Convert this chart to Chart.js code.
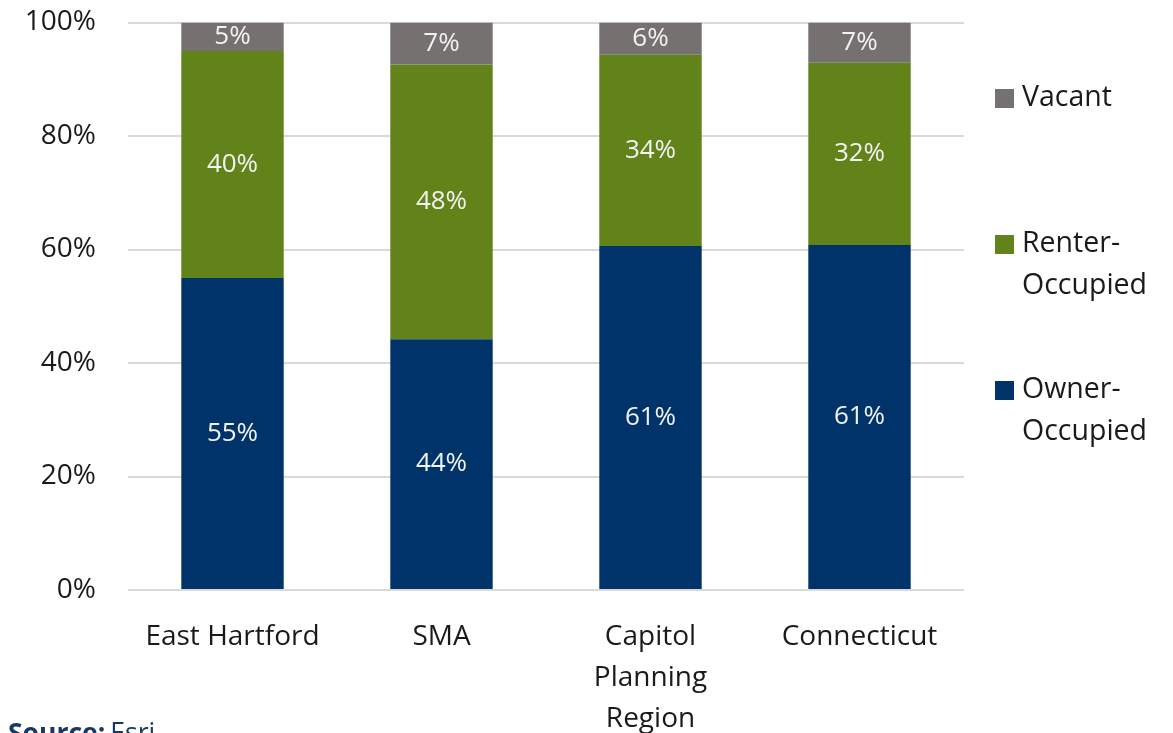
<!DOCTYPE html>
<html>
<head>
<meta charset="utf-8">
<script src="https://cdn.jsdelivr.net/npm/chart.js@4.4.1/dist/chart.umd.min.js"></script>
<style>
  html, body { margin: 0; padding: 0; background: #fff; }
  #wrap { width: 1173px; height: 733px; position: relative; }
</style>
</head>
<body>
<div id="wrap"><canvas id="housingChart"></canvas></div>
<script>
const areas = ['East Hartford', 'SMA', ['Capitol', 'Planning', 'Region'], 'Connecticut'];
const ownerOccupied = [55.0, 44.2, 60.6, 60.8];
const renterOccupied = [40.0, 48.4, 33.7, 32.1];
const vacant = [5.0, 7.4, 5.7, 7.1];
const yTicks = [0, 20, 40, 60, 80, 100];

const FONT = '"Open Sans", "Noto Sans", sans-serif';
const colors = { owner: '#00336a', renter: '#62821a', vacant: '#767171' };

// value labels in the middle of each segment
const segmentLabels = {
    id: 'segmentLabels',
    afterDatasetsDraw(chart) {
        const ctx = chart.ctx;
        ctx.save();
        ctx.fillStyle = '#f2f2f2';
        ctx.font = '26px ' + FONT;
        ctx.textAlign = 'center';
        ctx.textBaseline = 'middle';
        chart.data.datasets.forEach((ds, i) => {
            chart.getDatasetMeta(i).data.forEach((bar, j) => {
                const y = (bar.y + bar.base) / 2;
                ctx.fillText(Math.round(ds.data[j]) + '%', bar.x, y);
            });
        });
        ctx.restore();
    }
};

// legend on the right, top to bottom in stack order
const sideLegend = {
    id: 'sideLegend',
    afterDraw(chart) {
        const ctx = chart.ctx;
        const items = [
            { ds: 2, lines: ['Vacant'], y: 98 },
            { ds: 1, lines: ['Renter-', 'Occupied'], y: 244 },
            { ds: 0, lines: ['Owner-', 'Occupied'], y: 390 }
        ];
        ctx.save();
        ctx.font = '28.5px ' + FONT;
        ctx.textBaseline = 'middle';
        items.forEach(it => {
            ctx.fillStyle = chart.data.datasets[it.ds].backgroundColor;
            ctx.fillRect(995, it.y - 9, 19, 19);
            ctx.fillStyle = '#1a1a1a';
            it.lines.forEach((t, k) => ctx.fillText(t, 1022, it.y + k * 42));
        });

        // source note
        ctx.textBaseline = 'alphabetic';
        ctx.font = 'bold 26.5px ' + FONT;
        ctx.fillStyle = '#173a64';
        ctx.fillText('Source:', 8, 742);
        const w = ctx.measureText('Source:').width;
        ctx.font = '26.5px ' + FONT;
        ctx.fillText('Esri', 8 + w + 5, 742);
        ctx.restore();
    }
};

new Chart(document.getElementById('housingChart'), {
    type: 'bar',
    data: {
        labels: areas,
        datasets: [
            { label: 'Owner-Occupied', data: ownerOccupied, backgroundColor: colors.owner },
            { label: 'Renter-Occupied', data: renterOccupied, backgroundColor: colors.renter },
            { label: 'Vacant', data: vacant, backgroundColor: colors.vacant }
        ]
    },
    options: {
        responsive: true,
        maintainAspectRatio: false,
        animation: false,
        layout: { padding: { top: 0, right: 209, left: 0, bottom: 0 } },
        datasets: { bar: { categoryPercentage: 1, barPercentage: 0.49 } },
        plugins: { legend: { display: false }, tooltip: { enabled: false } },
        scales: {
            x: {
                stacked: true,
                grid: { display: false },
                border: { display: false },
                afterFit: axis => { axis.height = 143; },
                ticks: {
                    color: '#1a1a1a',
                    font: { family: FONT, size: 28, lineHeight: 1.47 },
                    padding: 18,
                    maxRotation: 0,
                    autoSkip: false
                }
            },
            y: {
                stacked: true,
                min: 0,
                max: 100,
                afterBuildTicks: axis => { axis.ticks = yTicks.map(v => ({ value: v })); },
                afterFit: axis => { axis.width = 128; axis.paddingTop = 22.5; axis.paddingBottom = 0; },
                grid: { color: '#d9d9d9', lineWidth: 2, drawTicks: false },
                border: { display: false },
                ticks: {
                    color: '#1a1a1a',
                    font: { family: FONT, size: 28 },
                    padding: 32,
                    callback: v => v + '%'
                }
            }
        }
    },
    plugins: [segmentLabels, sideLegend]
});
</script>
</body>
</html>
